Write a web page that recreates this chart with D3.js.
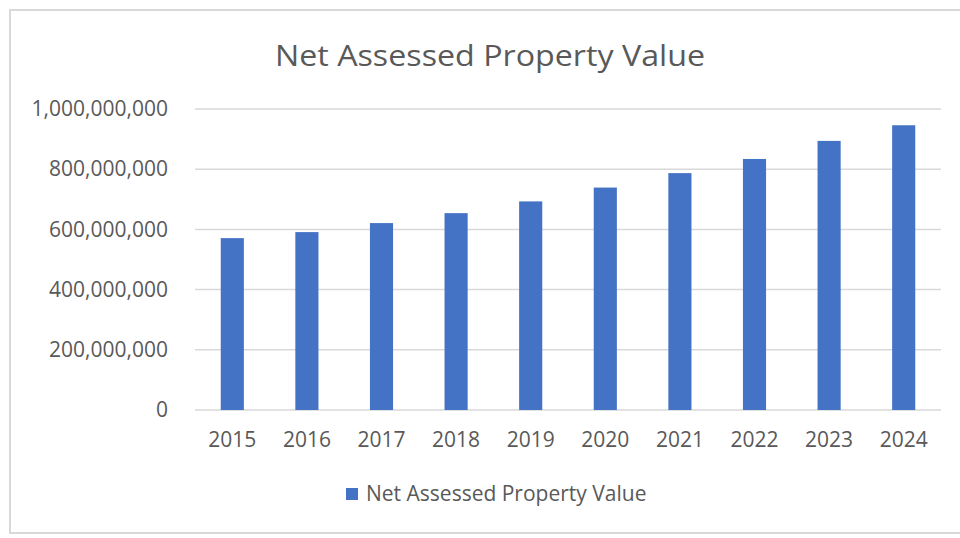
<!DOCTYPE html>
<html>
<head>
<meta charset="utf-8">
<script src="https://cdn.jsdelivr.net/npm/d3@7"></script>
<style>
  html, body { margin: 0; padding: 0; background: #fff; }
  svg { display: block; font-family: "Open Sans", sans-serif; }
</style>
</head>
<body>
<div id="chart"></div>
<script>
// Chart data
const years = ['2015', '2016', '2017', '2018', '2019', '2020', '2021', '2022', '2023', '2024'];
const values = [571e6, 591e6, 621e6, 654e6, 693e6, 739e6, 787e6, 834e6, 894e6, 946e6];
const yTicks = [0, 200e6, 400e6, 600e6, 800e6, 1000e6];
const chartTitle = 'Net Assessed Property Value';
const seriesName = 'Net Assessed Property Value';

const width = 960;
const height = 538;
const margin = { top: 109, right: 19, bottom: 128, left: 195 };
const innerWidth = width - margin.left - margin.right;
const innerHeight = height - margin.top - margin.bottom;

const barColor = '#4472C4';
const gridColor = '#d9d9d9';
const textColor = '#595959';

const svg = d3.select('#chart')
    .append('svg')
    .attr('width', width)
    .attr('height', height);

// Outer chart border: top, left and bottom only (right side runs off the picture)
svg.append('path')
    .attr('d', `M${width},10 H10 V533 H${width}`)
    .attr('fill', 'none')
    .attr('stroke', gridColor)
    .attr('stroke-width', 2);

// Title
svg.append('text')
    .attr('x', 490)
    .attr('y', 66)
    .attr('text-anchor', 'middle')
    .attr('font-size', '29px')
    .attr('textLength', 430)
    .attr('lengthAdjust', 'spacingAndGlyphs')
    .attr('fill', textColor)
    .text(chartTitle);

const g = svg.append('g')
    .attr('transform', `translate(${margin.left},${margin.top})`);

// Scales
const xScale = d3.scaleBand()
    .domain(years)
    .range([0, innerWidth])
    .paddingInner(0.69)
    .paddingOuter(0.345);

const yScale = d3.scaleLinear()
    .domain([0, 1000e6])
    .range([innerHeight, 0]);

// Grid lines
g.append('g')
    .attr('class', 'grid')
    .selectAll('line')
    .data(yTicks)
    .enter().append('line')
    .attr('x1', 0)
    .attr('x2', innerWidth)
    .attr('y1', d => yScale(d))
    .attr('y2', d => yScale(d))
    .attr('stroke', gridColor)
    .attr('stroke-width', 1.5);

// Bars
g.selectAll('.bar')
    .data(values)
    .enter().append('rect')
    .attr('class', 'bar')
    .attr('x', (d, i) => xScale(years[i]))
    .attr('y', d => yScale(d))
    .attr('width', xScale.bandwidth())
    .attr('height', d => innerHeight - yScale(d))
    .attr('fill', barColor);

// Y axis labels
const yAxis = g.append('g')
    .call(d3.axisLeft(yScale).tickValues(yTicks).tickSize(0).tickPadding(27).tickFormat(d3.format(',')));
yAxis.select('.domain').remove();
yAxis.selectAll('text')
    .attr('font-family', '"Open Sans", sans-serif')
    .attr('font-size', '21px')
    .attr('fill', textColor);

// X axis labels
const xAxis = g.append('g')
    .attr('transform', `translate(0,${innerHeight})`)
    .call(d3.axisBottom(xScale).tickSize(0).tickPadding(22));
xAxis.select('.domain').remove();
xAxis.selectAll('text')
    .attr('font-family', '"Open Sans", sans-serif')
    .attr('font-size', '21px')
    .attr('fill', textColor);

// Legend
const legend = svg.append('g')
    .attr('transform', 'translate(346,488)');
legend.append('rect')
    .attr('width', 12)
    .attr('height', 12)
    .attr('fill', barColor);
legend.append('text')
    .attr('x', 20)
    .attr('y', 6)
    .attr('dy', '0.35em')
    .attr('font-size', '21px')
    .attr('fill', textColor)
    .text(seriesName);
</script>
</body>
</html>
